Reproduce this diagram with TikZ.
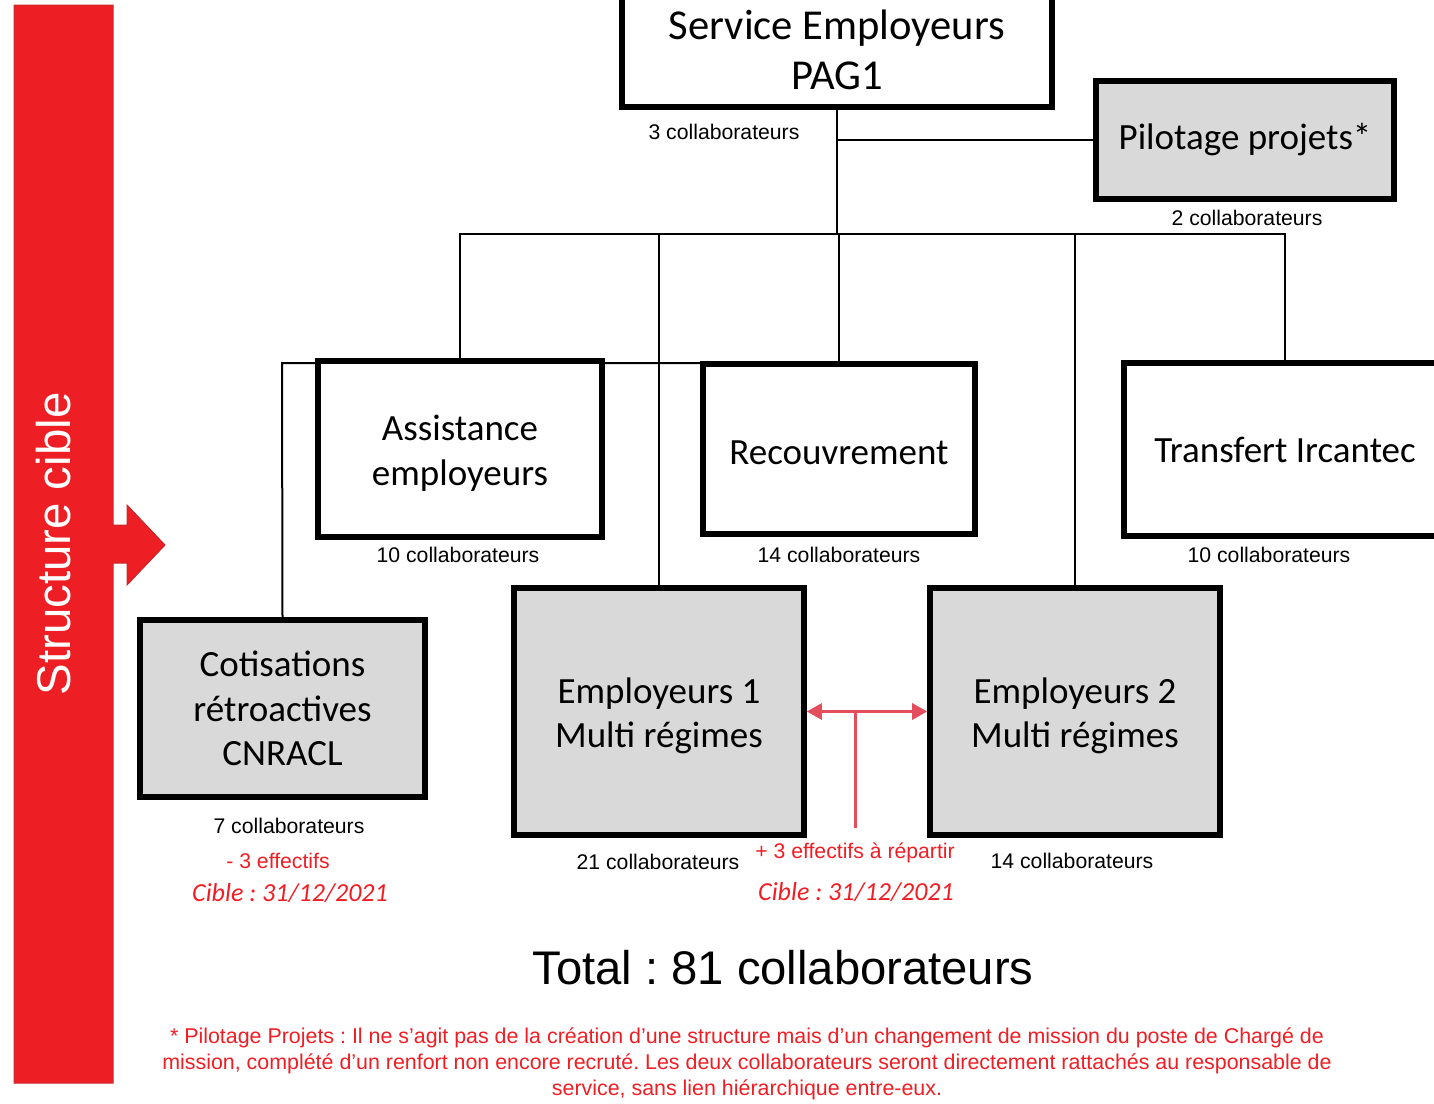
\documentclass[tikz,border=0pt]{standalone}
\usepackage{fontspec}
\setmainfont{Carlito}
\newfontfamily\arialf{Liberation Sans}
\usetikzlibrary{arrows.meta}
\pgfdeclarelayer{bg}
\pgfsetlayers{bg,main}
\definecolor{boxgray}{HTML}{D9D9D9}
\definecolor{barred}{RGB}{237,30,36}
\definecolor{baredge}{RGB}{200,40,45}
\definecolor{txtred}{RGB}{240,30,36}
\definecolor{arrred}{RGB}{228,78,92}
\frenchspacing
\begin{document}
\begin{tikzpicture}[x=0.5pt,y=-0.5pt,
  orgbox/.style={draw=black, line width=2.8pt, fill=white, inner sep=0pt, align=center, font=\fontsize{18.5}{22.25}\selectfont},
  graybox/.style={orgbox, fill=boxgray},
  conn/.style={line width=1.4pt, black},
  thinconn/.style={line width=1pt, black},
  lbl/.style={font=\arialf\fontsize{10.6}{12}\selectfont, inner sep=0pt},
  redlbl/.style={lbl, text=txtred},
  cible/.style={font=\itshape\fontsize{13}{15}\selectfont, text=txtred, inner sep=0pt},
  relarrow/.style={line width=1.5pt, arrred, {Triangle[length=7.5pt,width=8pt]}-{Triangle[length=7.5pt,width=8pt]}},
]
\useasboundingbox (0,0) rectangle (1434,1103);

% red bar with arrow
\draw[fill=barred, draw=baredge, line width=0.5pt] (14,5) -- (113,5) -- (113,525) -- (127,525) -- (127,505) -- (165,545) -- (127,585) -- (127,563) -- (113,563) -- (113,1083) -- (14,1083) -- cycle;
\node[rotate=90, text=white, font=\arialf\fontsize{23.7}{28}\selectfont, inner sep=0pt] (sc) at (54,544) {Structure cible};

% boxes
\node[orgbox, minimum width=215pt, minimum height=57pt, font=\fontsize{21.3}{25}\selectfont] (svc) at (837,50) {Service Employeurs\\PAG1};
\node[graybox, minimum width=149pt, minimum height=59pt] (pil) at (1245,140) {Pilotage projets*};
\node[orgbox, minimum width=142pt, minimum height=88pt] (asst) at (460,449) {\rule{0pt}{17pt}Assistance\\employeurs};
\node[orgbox, minimum width=136pt, minimum height=85pt] (rec) at (839,449) {\rule{0pt}{16pt}Recouvrement};
\node[orgbox, minimum width=161pt, minimum height=86.5pt] (tra) at (1285,449.5) {Transfert Ircantec};
\node[graybox, minimum width=142.5pt, minimum height=88.5pt] (cot) at (282.5,708.5) {Cotisations\\rétroactives\\CNRACL};
\node[graybox, minimum width=145pt, minimum height=123.5pt] (e1) at (659,711.5) {\rule{0pt}{17pt}Employeurs 1\\Multi régimes};
\node[graybox, minimum width=145pt, minimum height=123.5pt] (e2) at (1075,711.5) {\rule{0pt}{17pt}Employeurs 2\\Multi régimes};

% connectors
\begin{pgfonlayer}{bg}
\coordinate (busY) at (0,234);
\draw[conn] (svc.south) -- (svc.south |- busY);
\draw[thinconn] (svc.south |- pil.west) -- (pil.west);
\draw[conn] (asst.north) |- (tra.north |- busY) -- (tra.north);
\draw[conn] (rec.north) -- (rec.north |- busY);
\draw[conn] (e1.north) -- (e1.north |- busY);
\draw[conn] (e2.north) -- (e2.north |- busY);
\coordinate (cotj) at (282,363);
\draw[thinconn] (cot.north) -- (cotj) -- (cotj -| rec.west);
\end{pgfonlayer}

% red relation arrow
\draw[relarrow] (e1.east) -- (e2.west);
\coordinate (stemtop) at (855,711.5);
\coordinate (stembot) at (855,828);
\draw[line width=1.5pt, arrred] (stemtop) -- (stembot);

% labels
\node[lbl] (lsvc) at (724,132) {3 collaborateurs};
\node[lbl] (lpil) at (1247,218) {2 collaborateurs};
\node[lbl] (lasst) at (458,555) {10 collaborateurs};
\node[lbl] (lrec) at (839,555) {14 collaborateurs};
\node[lbl] (ltra) at (1269,555) {10 collaborateurs};
\node[lbl] (lcot) at (289,826) {7 collaborateurs};
\node[redlbl] (lcotd) at (278,861) {- 3 effectifs};
\node[cible] (c1) at (290,893) {Cible : 31/12/2021};
\node[lbl] (le1) at (658,862) {21 collaborateurs};
\node[redlbl] (lrep) at (855,853) {+ 3 effectifs à répartir};
\node[cible] (c2) at (856,892) {Cible : 31/12/2021};
\node[lbl] (le2) at (1072,861) {14 collaborateurs};
\node[font=\arialf\fontsize{23.6}{28}\selectfont, inner sep=0pt] (total) at (783,968) {Total : 81 collaborateurs};

\node[font=\arialf\fontsize{10.7}{13}\selectfont, text=txtred, align=center, inner sep=0pt] (foot) at (747,1064) {* Pilotage Projets : Il ne s’agit pas de la création d’une structure mais d’un changement de mission du poste de Chargé de\\mission, complété d’un renfort non encore recruté. Les deux collaborateurs seront directement rattachés au responsable de\\service, sans lien hiérarchique entre-eux.};
\end{tikzpicture}
\end{document}
